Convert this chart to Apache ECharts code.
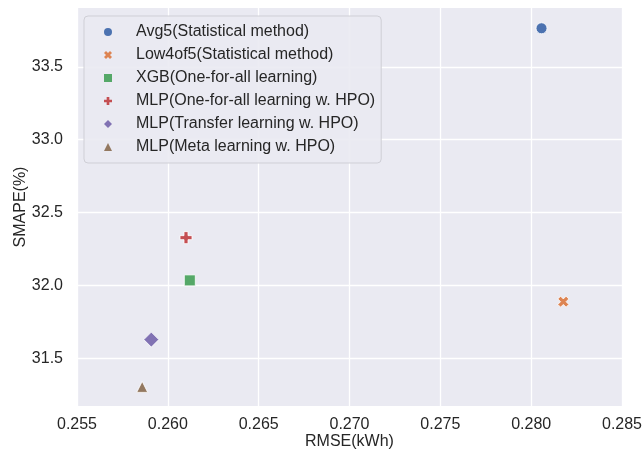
<!DOCTYPE html>
<html>
<head>
<meta charset="utf-8">
<script src="https://cdn.jsdelivr.net/npm/echarts@6/dist/echarts.min.js"></script>
<style>
html,body{margin:0;padding:0;background:#fff;}
#chart{width:643px;height:454px;}
</style>
</head>
<body>
<div id="chart"></div>
<script>
// ---- data ----
const seriesNames = [
  'Avg5(Statistical method)',
  'Low4of5(Statistical method)',
  'XGB(One-for-all learning)',
  'MLP(One-for-all learning w. HPO)',
  'MLP(Transfer learning w. HPO)',
  'MLP(Meta learning w. HPO)'
];
const rmseValues  = [0.28057, 0.28177, 0.26121, 0.26100, 0.25909, 0.25859];
const smapeValues = [33.764, 31.890, 32.036, 32.329, 31.630, 31.306];
const xTickValues = [0.255, 0.260, 0.265, 0.270, 0.275, 0.280, 0.285];
const yTickValues = [31.5, 32.0, 32.5, 33.0, 33.5];
const xAxisTitle = 'RMSE(kWh)';
const yAxisTitle = 'SMAPE(%)';

// ---- styles ----
const colors = ['#4C72B0', '#DD8452', '#55A868', '#C44E52', '#8172B3', '#937860'];
const X_PATH = 'path://M1,0 L2,1 L3,0 L4,1 L3,2 L4,3 L3,4 L2,3 L1,4 L0,3 L1,2 L0,1 Z';
const PLUS_PATH = 'path://M2,0 L4,0 L4,2 L6,2 L6,4 L4,4 L4,6 L2,6 L2,4 L0,4 L0,2 L2,2 Z';
const symbols = ['circle', X_PATH, 'rect', PLUS_PATH, 'diamond', 'triangle'];
const symbolSizes = [11, 11, 11, 12, 15, 11];
const textColor = '#262626';
const fontFamily = '"Liberation Sans", Arial, sans-serif';

const chart = echarts.init(document.getElementById('chart'), null, {renderer: 'canvas'});

const series = seriesNames.map((name, i) => ({
  type: 'scatter',
  name: name,
  data: [[rmseValues[i], smapeValues[i]]],
  symbol: symbols[i],
  symbolSize: symbolSizes[i],
  itemStyle: {color: colors[i], borderColor: '#ffffff', borderWidth: 0.8, opacity: 1},
  emphasis: {disabled: true},
  z: 3
}));

const option = {
  animation: false,
  backgroundColor: '#ffffff',
  grid: {left: 77, right: 21, top: 8, bottom: 48, show: true, backgroundColor: '#EAEAF2', borderWidth: 0,
    containLabel: false, outerBoundsMode: 'none'},
  xAxis: {
    type: 'value',
    min: 0.255, max: 0.285, interval: 0.005,
    name: xAxisTitle, nameLocation: 'middle', nameGap: 28, nameMoveOverlap: false,
    nameTextStyle: {color: textColor, fontSize: 16, fontFamily: fontFamily},
    axisLine: {show: false}, axisTick: {show: false},
    axisLabel: {color: textColor, fontSize: 16, fontFamily: fontFamily, margin: 11, hideOverlap: false,
      formatter: v => v.toFixed(3), showMinLabel: true, showMaxLabel: true},
    splitLine: {show: true, lineStyle: {color: '#ffffff', width: 1.3}}
  },
  yAxis: {
    type: 'value',
    min: 31.175, max: 33.903,
    name: yAxisTitle, nameLocation: 'middle', nameGap: 48, nameMoveOverlap: false,
    nameTextStyle: {color: textColor, fontSize: 16, fontFamily: fontFamily},
    axisLine: {show: false},
    axisTick: {show: false, customValues: yTickValues},
    axisLabel: {color: textColor, fontSize: 16, fontFamily: fontFamily, margin: 14,
      customValues: yTickValues, formatter: v => v.toFixed(1)},
    splitLine: {show: true, lineStyle: {color: '#ffffff', width: 1.3}}
  },
  legend: {
    orient: 'vertical',
    left: 84, top: 16,
    padding: [8, 6, 8, 20],
    itemGap: 7,
    itemWidth: 8, itemHeight: 8,
    backgroundColor: 'rgba(234,234,242,0.9)',
    borderColor: '#cfcfd6', borderWidth: 1, borderRadius: 4,
    selectedMode: false,
    textStyle: {color: textColor, fontSize: 16, fontFamily: fontFamily, lineHeight: 16, padding: [0, 0, 0, 19]},
    data: seriesNames.map((name, i) => ({name: name, icon: symbols[i], itemStyle: {borderWidth: 0}})),
    z: 10
  },
  series: series
};
chart.setOption(option);
</script>
</body>
</html>
